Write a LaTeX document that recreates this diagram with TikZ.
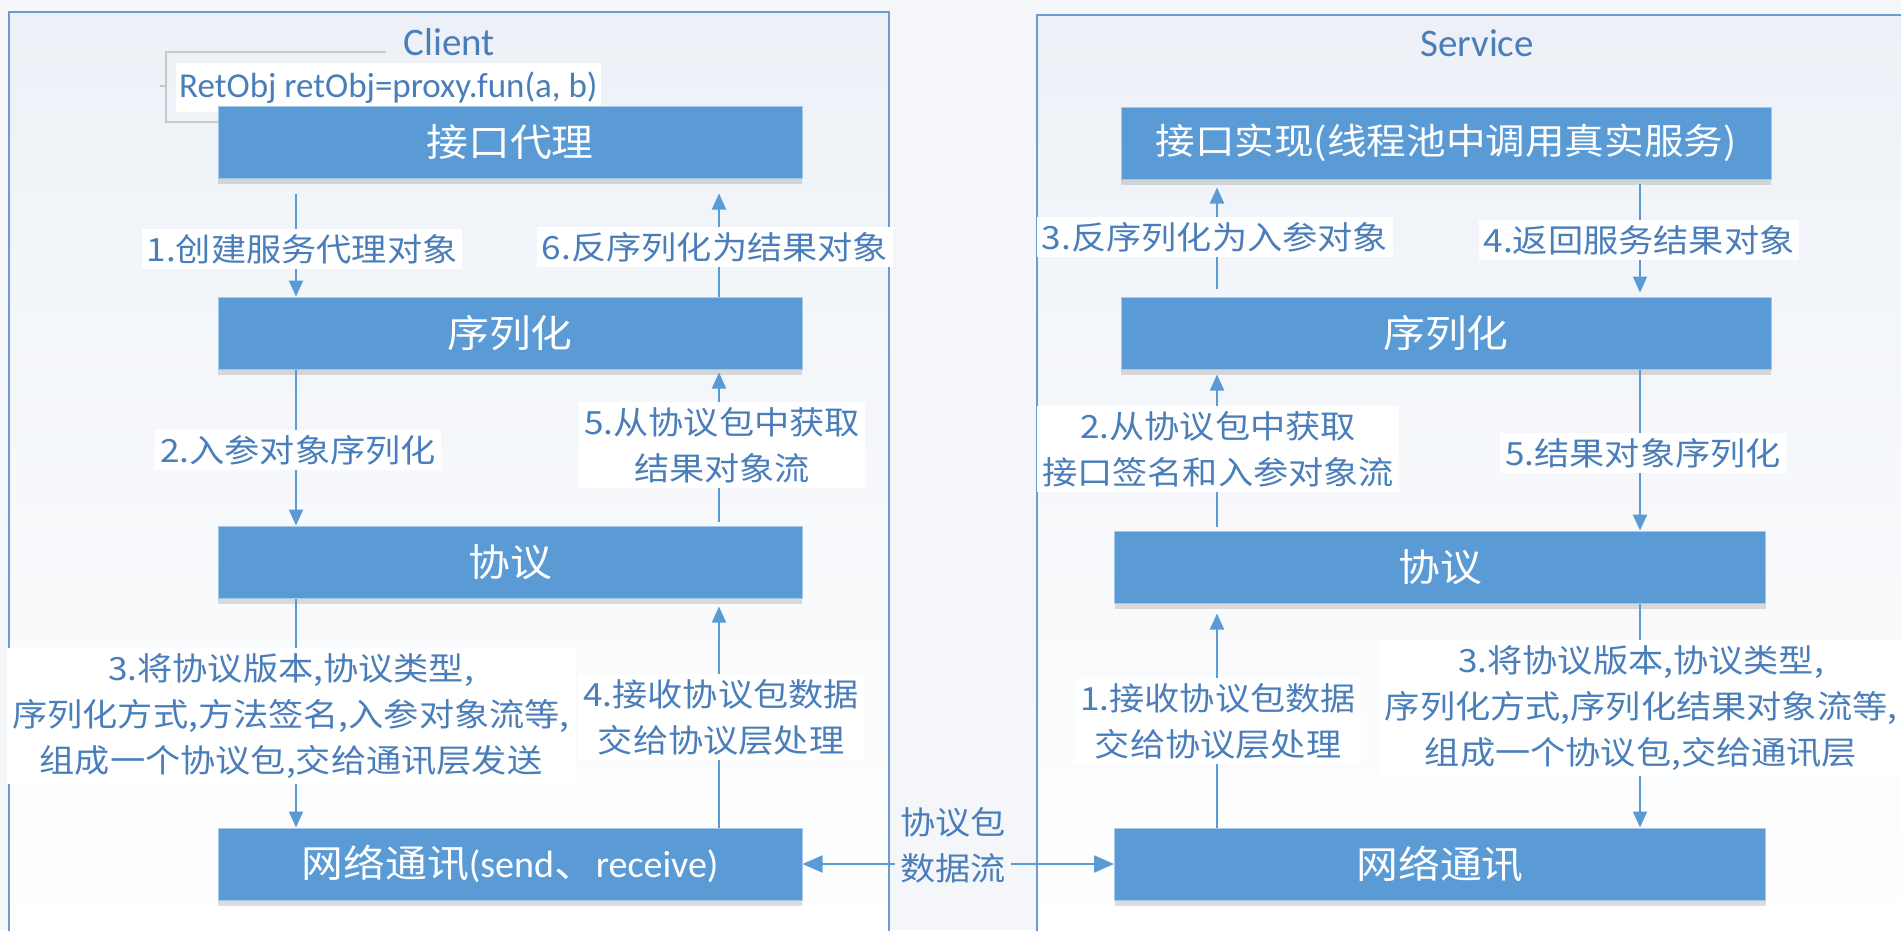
\documentclass[tikz,border=0pt]{standalone}
\usepackage{fontspec}
\newfontfamily\cjk[FakeStretch=1.1]{Noto Sans CJK SC}
\newfontfamily\lat{Carlito}
\usetikzlibrary{arrows.meta,shadows}
\definecolor{boxblue}{HTML}{5B9BD5}
\definecolor{txtblue}{HTML}{4A7EBB}
\definecolor{lineblue}{HTML}{5B9BD5}
\definecolor{framec}{HTML}{6C9BD2}
\definecolor{bgc}{HTML}{F4F6FA}
\definecolor{bgtop}{HTML}{EDF1F7}
\definecolor{bracketc}{HTML}{C8C8C8}
\tikzset{
 box/.style={rectangle, fill=boxblue, draw=boxblue!55!white, line width=1pt, text=white,
   font=\cjk\fontsize{38}{45}\selectfont, minimum height=72pt, inner sep=0pt,
   drop shadow={shadow xshift=0pt, shadow yshift=-6pt, opacity=0.22, fill=black!60}},
 lbl/.style={fill=white, text=txtblue, font=\cjk\fontsize{32}{46}\selectfont, align=center, inner sep=5pt},
 arr/.style={draw=lineblue, line width=2pt, -{Triangle[length=16pt,width=14pt]}},
 darr/.style={draw=lineblue, line width=2pt, {Triangle[length=20pt,width=17pt]}-{Triangle[length=20pt,width=17pt]}},
 frame/.style={draw=framec, line width=1.5pt},
 ttl/.style={text=txtblue, font=\lat\fontsize{39}{45}\selectfont}
}
\begin{document}
\begin{tikzpicture}[x=1pt,y=-1pt]
\useasboundingbox (0,0) rectangle (1901,930);
\fill[bgc] (0,0) rectangle (1901,930);
% frames
\shade[top color=bgtop, bottom color=white] (9,12) rectangle (889,935);
\shade[top color=bgtop, bottom color=white] (1037,15) rectangle (1905,935);
\draw[frame] (9,12) rectangle (889,940);
\draw[frame] (1037,15) rectangle (1910,940);
% titles
\node[ttl] (tclient) at (449,42) {Client};
\node[ttl] (tservice) at (1477,43) {Service};
% callout bracket
\draw[bracketc, line width=1.5pt] (386,52) -- (166,52) -- (166,122) -- (218,122);
\draw[bracketc, line width=1.5pt] (160,86) -- (166,86);
\node[fill=white, text=txtblue, font=\lat\fontsize{35}{40}\selectfont, anchor=west, inner sep=3pt, minimum height=49pt] (ret) at (176,87.5) {RetObj retObj=proxy.fun(a, b)};
% client boxes
\node[box, minimum width=584pt] (c1) at (510,142) {接口代理};
\node[box, minimum width=584pt] (c2) at (510,333) {序列化};
\node[box, minimum width=584pt] (c3) at (510,562) {协议};
\node[box, minimum width=584pt] (c4) at (510,864) {网络通讯{\lat (send}、{\lat receive)}};
% service boxes
\node[box, minimum width=650pt, font=\cjk\fontsize{36}{45}\selectfont] (s1) at (1446,143) {接口实现(线程池中调用真实服务)};
\node[box, minimum width=650pt] (s2) at (1446,333) {序列化};
\node[box, minimum width=651pt] (s3) at (1440,567) {协议};
\node[box, minimum width=651pt] (s4) at (1440,864) {网络通讯};
% columns
\coordinate (cl) at (296,0);
\coordinate (cr) at (719,0);
\coordinate (sl) at (1217,0);
\coordinate (sr) at (1640,0);
% client arrows
\draw[arr] ([yshift=-15pt]c1.south -| cl) -- (c2.north -| cl);
\draw[arr] (c2.north -| cr) -- ([yshift=-15pt]c1.south -| cr);
\draw[arr] (c2.south -| cl) -- (c3.north -| cl);
\draw[arr] ([yshift=4pt]c3.north -| cr) -- ([yshift=-3pt]c2.south -| cr);
\draw[arr] (c3.south -| cl) -- (c4.north -| cl);
\draw[arr] (c4.north -| cr) -- ([yshift=-8pt]c3.south -| cr);
% service arrows
\draw[arr] ([yshift=8pt]s2.north -| sl) -- ([yshift=-8pt]s1.south -| sl);
\draw[arr] ([yshift=-4pt]s1.south -| sr) -- ([yshift=4pt]s2.north -| sr);
\draw[arr] ([yshift=4pt]s3.north -| sl) -- ([yshift=-5pt]s2.south -| sl);
\draw[arr] (s2.south -| sr) -- (s3.north -| sr);
\draw[arr] (s4.north -| sl) -- ([yshift=-10pt]s3.south -| sl);
\draw[arr] (s3.south -| sr) -- (s4.north -| sr);
% network link
\draw[darr] (c4.east) -- (s4.west);
% labels client
\node[lbl] (l1) at (302,249) {1.创建服务代理对象};
\node[lbl] (l6) at (715,247) {6.反序列化为结果对象};
\node[lbl] (l2) at (298,450) {2.入参对象序列化};
\node[lbl] (l5) at (722,445) {5.从协议包中获取\\结果对象流};
\node[lbl] (l3) at (291,716) {3.将协议版本,协议类型,\\序列化方式,方法签名,入参对象流等,\\组成一个协议包,交给通讯层发送};
\node[lbl] (l4) at (721,717) {4.接收协议包数据\\交给协议层处理};
% labels service
\node[lbl] (m3) at (1215,237) {3.反序列化为入参对象};
\node[lbl] (m4) at (1639,240) {4.返回服务结果对象};
\node[lbl] (m2) at (1218,449) {2.从协议包中获取\\接口签名和入参对象流};
\node[lbl] (m5) at (1643,453) {5.结果对象序列化};
\node[lbl] (m1) at (1218,721) {1.接收协议包数据\\交给协议层处理};
\node[lbl] (m3b) at (1641,708) {3.将协议版本,协议类型,\\序列化方式,序列化结果对象流等,\\组成一个协议包,交给通讯层};
% link label
\node[lbl, fill=bgc] (link) at (953,845) {协议包\\数据流};
\end{tikzpicture}
\end{document}
